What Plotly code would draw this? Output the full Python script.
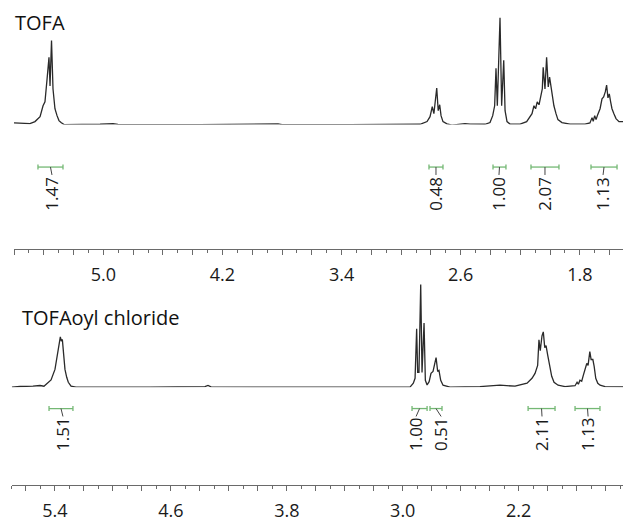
import plotly.graph_objects as go

W, H = 623, 522

# ---------------- data ----------------
# TOFA spectrum: chemical shift (ppm) and relative intensity
tofa_ppm = [5.600, 5.493, 5.459, 5.425, 5.405, 5.392, 5.378, 5.365, 5.358, 5.348, 5.338, 5.331,
            5.325, 5.311, 5.298, 5.284, 5.264, 5.022, 4.935, 4.902, 4.351, 3.827, 3.800, 3.343,
            2.873, 2.826, 2.806, 2.791, 2.780, 2.761, 2.751, 2.741, 2.732, 2.719, 2.692, 2.659,
            2.606, 2.571, 2.537, 2.437, 2.403, 2.385, 2.372, 2.363, 2.354, 2.336, 2.325, 2.311,
            2.302, 2.289, 2.269, 2.201, 2.157, 2.121, 2.108, 2.097, 2.086, 2.074, 2.063, 2.052,
            2.046, 2.034, 2.023, 2.012, 2.003, 1.994, 1.985, 1.974, 1.960, 1.947, 1.920, 1.866,
            1.765, 1.732, 1.718, 1.710, 1.700, 1.691, 1.680, 1.664, 1.651, 1.640, 1.629, 1.620,
            1.611, 1.602, 1.593, 1.584, 1.571, 1.557, 1.537, 1.510]
tofa_int = [1.7, 1.0, 3.0, 8.0, 19, 23, 46, 68, 39, 85, 36, 26,
            16, 9, 4, 2, 0, 0.3, 0.8, 0.2, 0, 0.6, 0, 0,
            0.3, 3, 8, 18, 11, 37, 14, 20, 9, 3, 0.7, -0.5,
            0.3, 1.0, 0.5, 0.3, 2, 9, 19, 57, 19, 108, 19, 65,
            14, 3, 0.5, 0.5, 3, 11, 19, 16, 23, 20, 28, 36,
            58, 36, 68, 38, 48, 38, 33, 19, 11, 5, 2, 0.5,
            0.5, 1.7, 7, 3.3, 9, 5, 10, 16, 26, 28, 33, 40,
            27, 31, 23, 16, 11, 6, 3, 3]

# TOFAoyl chloride spectrum
tcl_ppm = [5.697, 5.641, 5.552, 5.503, 5.476, 5.455, 5.427, 5.400, 5.386, 5.372, 5.363, 5.356,
           5.349, 5.340, 5.331, 5.319, 5.308, 5.289, 5.255, 4.744, 4.365, 4.344, 4.323, 3.709,
           2.950, 2.927, 2.915, 2.904, 2.897, 2.888, 2.876, 2.867, 2.853, 2.844, 2.832, 2.818,
           2.805, 2.791, 2.782, 2.770, 2.759, 2.750, 2.738, 2.722, 2.674, 2.467, 2.329, 2.225,
           2.142, 2.108, 2.087, 2.069, 2.060, 2.051, 2.039, 2.030, 2.020, 2.011, 1.999, 1.988,
           1.972, 1.956, 1.928, 1.880, 1.811, 1.797, 1.788, 1.777, 1.765, 1.754, 1.742, 1.730,
           1.721, 1.709, 1.700, 1.688, 1.679, 1.668, 1.654, 1.638, 1.604, 1.480]
tcl_int = [0, 0.7, 1.0, 1.7, 1.0, 3.7, 7.3, 18, 31.7, 45, 51, 46.7,
           48.3, 33, 18, 10, 5, 1, 0, 0, 0.5, 1.7, 0.3, 0,
           0, 4, 9, 59, 15, 15, 104, 15, 65, 7, 2.3, 5.6,
           14, 16, 22, 30, 16, 17, 7, 2, 0, 0.5, 2, 1,
           4, 9, 14, 22, 48, 37, 52, 56, 40, 42, 32, 22,
           11, 5, 2, 0.5, 1.5, 5, 3, 7, 6, 12, 17, 24,
           22, 36, 28, 28, 21, 9, 4, 2, 0.5, 0.3]

# Integral regions: start ppm, end ppm, label ppm, value
tofa_int_start = [5.439, 2.813, 2.383, 2.128, 1.725]
tofa_int_end = [5.271, 2.719, 2.296, 1.940, 1.550]
tofa_int_label = [5.345, 2.766, 2.343, 2.034, 1.644]
tofa_int_value = ["1.47", "0.48", "1.00", "2.07", "1.13"]

tcl_int_start = [5.441, 2.936, 2.812, 2.135, 1.811]
tcl_int_end = [5.276, 2.832, 2.729, 1.949, 1.639]
tcl_int_label = [5.345, 2.908, 2.735, 2.039, 1.721]
tcl_int_value = ["1.51", "1.00", "0.51", "2.11", "1.13"]

tofa_tick_labels = ["5.0", "4.2", "3.4", "2.6", "1.8"]
tcl_tick_labels = ["5.4", "4.6", "3.8", "3.0", "2.2"]

titles = ["TOFA", "TOFAoyl chloride"]

# ---------------- layout helpers ----------------
def py(p):  # pixel y -> paper
    return 1 - p / H

FONT = "Open Sans"
LINE = "#2a2a2a"
GREEN = "#74b874"
AX = "#6a6a6a"

fig = go.Figure()
fig.add_trace(go.Scatter(x=tofa_ppm, y=tofa_int, mode="lines", xaxis="x", yaxis="y",
                         line=dict(color=LINE, width=1.3), hoverinfo="skip"))
fig.add_trace(go.Scatter(x=tcl_ppm, y=tcl_int, mode="lines", xaxis="x2", yaxis="y2",
                         line=dict(color=LINE, width=1.3), hoverinfo="skip"))


def make_ticks(lo, hi, labels):
    vals, texts = [], []
    k = int(round(lo * 10))
    while k >= int(round(hi * 10)):
        if k % 2 == 0:
            v = k / 10
            s = f"{v:.1f}"
            vals.append(v)
            texts.append(s if s in labels else "")
        k -= 1
    return vals, texts


def axis_cfg(rng, left_px, axis_px, labels):
    vals, texts = make_ticks(rng[0], rng[1], labels)
    return dict(range=rng, domain=[left_px / W, 1], anchor="free", position=py(axis_px),
                showline=True, linecolor=AX, linewidth=1,
                ticks="outside", ticklen=5, tickcolor=AX, tickwidth=1,
                tickmode="array", tickvals=vals, ticktext=texts,
                minor=dict(dtick=0.1, tick0=0, ticks="outside", ticklen=3, tickcolor=AX, tickwidth=1),
                tickfont=dict(family=FONT, size=18, color="#1a1a1a"),
                ticklabelstandoff=4,
                showgrid=False, zeroline=False, fixedrange=True)


tofa_range = [5.6, 1.51]
tcl_range = [5.7, 1.48]

fig.update_layout(
    width=W, height=H,
    margin=dict(l=0, r=0, t=0, b=0),
    paper_bgcolor="white", plot_bgcolor="rgba(0,0,0,0)",
    showlegend=False,
    xaxis=axis_cfg(tofa_range, 14, 252, tofa_tick_labels),
    xaxis2=axis_cfg(tcl_range, 11.5, 491, tcl_tick_labels),
    yaxis=dict(domain=[py(126), 1], range=[0, 126], visible=False, fixedrange=True),
    yaxis2=dict(domain=[py(391.7), py(270)], range=[0, 121.7], visible=False, fixedrange=True),
)

shapes = []
annotations = []


def add_integrals(xref, starts, ends, labpos, values, y_br, y_lab):
    for s, e, lp, v in zip(starts, ends, labpos, values):
        c = (s + e) / 2
        shapes.append(dict(type="line", xref=xref, yref="paper", x0=s, x1=e,
                           y0=py(y_br), y1=py(y_br), line=dict(color=GREEN, width=1.3)))
        for xe in (s, e):
            shapes.append(dict(type="line", xref=xref, yref="paper", x0=xe, x1=xe,
                               y0=py(y_br - 2.5), y1=py(y_br + 2.5), line=dict(color=GREEN, width=1.3)))
        shapes.append(dict(type="line", xref=xref, yref="paper", x0=c, x1=lp,
                           y0=py(y_br), y1=py(y_br + 8), line=dict(color="#444", width=1)))
        annotations.append(dict(x=lp, y=py(y_lab), xref=xref, yref="paper", text=v,
                                textangle=-90, showarrow=False, xanchor="center", yanchor="middle",
                                font=dict(family=FONT, size=17, color="#1a1a1a")))


add_integrals("x", tofa_int_start, tofa_int_end, tofa_int_label, tofa_int_value, 169, 196)
add_integrals("x2", tcl_int_start, tcl_int_end, tcl_int_label, tcl_int_value, 413.3, 439)

annotations.append(dict(x=13 / W, y=py(23), xref="paper", yref="paper", text=titles[0],
                        showarrow=False, xanchor="left", yanchor="middle",
                        font=dict(family=FONT, size=20, color="#111")))
annotations.append(dict(x=20 / W, y=py(321), xref="paper", yref="paper", text=titles[1],
                        showarrow=False, xanchor="left", yanchor="middle",
                        font=dict(family=FONT, size=20, color="#111")))

fig.update_layout(shapes=shapes, annotations=annotations)
fig.write_html("out.html")
